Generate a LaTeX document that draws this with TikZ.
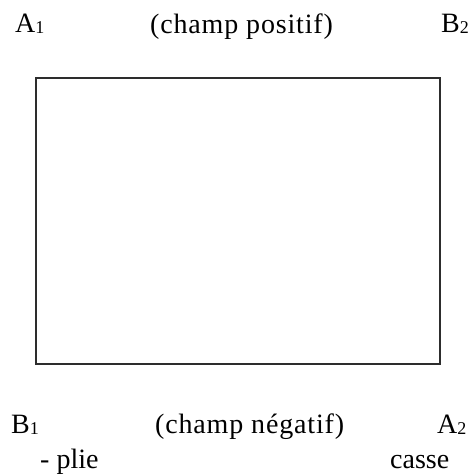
\documentclass[tikz,border=0pt]{standalone}
\usepackage{fontspec}
\setmainfont{Liberation Serif}
\usepackage{xcolor}
\definecolor{framegray}{RGB}{45,45,45}
\newcommand{\lowidx}[1]{\raisebox{-1pt}{\fontsize{18}{18}\selectfont#1}}
\tikzset{
    lbl/.style={
        inner sep=0pt,anchor=base west,font=\fontsize{28}{32}\selectfont
    },
    wide/.style={
        lbl,font=\fontsize{28}{32}\selectfont\addfontfeature{LetterSpace=3}
    },
    frame/.style={
        draw=framegray,line width=2pt
    }
}

\begin{document}
\begin{tikzpicture}[x=1pt,y=-1pt]
\useasboundingbox (0,0) rectangle (472,476);

% the plate
\coordinate (tl) at (36,78);
\coordinate (br) at (440,364);
\draw[frame](tl) rectangle (br);

% top side
\node[lbl] (a1) at (15,33) {A\lowidx{1}};
\node[wide] (posit) at (150,34) {(champ positif)};
\node[lbl] (b2) at (441,33) {B\lowidx{2}};

% bottom side
\node[lbl] (b1) at (11,433) {B\lowidx{1}};
\node[wide] (negat) at (155,433) {(champ négatif)};
\node[lbl] (a2) at (437,433) {A\lowidx{2}};
\node[lbl] (plie) at (40,468) {- plie};
\node[lbl] (casse) at (390,468) {casse};

\end{tikzpicture}
\end{document}
